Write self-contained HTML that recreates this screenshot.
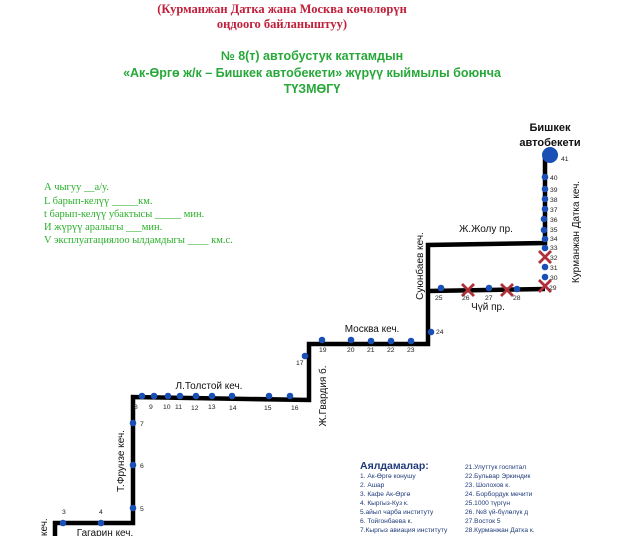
<!DOCTYPE html>
<html><head><meta charset="utf-8"><style>
html,body{margin:0;padding:0;background:#fff;width:630px;height:536px;overflow:hidden}
svg{display:block}
text{font-family:"Liberation Sans",sans-serif}
.s{font-size:6.8px;fill:#222}
.st{font-size:10px;fill:#111}
.lg{font-size:6.6px;fill:#1f3a7a}
.gr{font-family:"Liberation Serif",serif;font-size:10.5px;fill:#2bb02b}
</style></head><body>
<svg width="630" height="536" viewBox="0 0 630 536" xmlns="http://www.w3.org/2000/svg">
<text x="282" y="13" text-anchor="middle" font-weight="bold" font-size="12.5" fill="#c0203a" style="font-family:'Liberation Serif',serif">(Курманжан Датка жана Москва көчөлөрүн</text>
<text x="282" y="28" text-anchor="middle" font-weight="bold" font-size="12.5" fill="#c0203a" style="font-family:'Liberation Serif',serif">оңдоого байланыштуу)</text>
<text x="312" y="60" text-anchor="middle" font-weight="bold" font-size="12.5" fill="#28a83a">№ 8(т) автобустук каттамдын</text>
<text x="312" y="77" text-anchor="middle" font-weight="bold" font-size="12.5" fill="#28a83a">«Ак-Өргө ж/к – Бишкек автобекети» жүрүү кыймылы боюнча</text>
<text x="312" y="93" text-anchor="middle" font-weight="bold" font-size="12.5" fill="#28a83a">ТҮЗМӨГҮ</text>

<text class="gr" x="44" y="190">А чыгуу __а/у.</text>
<text class="gr" x="44" y="204">L барып-келүү  _____км.</text>
<text class="gr" x="44" y="217">t барып-келүү убактысы  _____ мин.</text>
<text class="gr" x="44" y="230">И жүрүү аралыгы ___мин.</text>
<text class="gr" x="44" y="243">V эксплуатациялоо ылдамдыгы ____ км.с.</text>

<g fill="none" stroke="#000" stroke-width="4.5" stroke-linejoin="miter">
<polyline points="55,540 55,523 133,523 133,397 309,400 309,344 428,344 428,245 545,243 545,155"/>
<polyline points="428,291 545,289"/>
</g>

<g fill="#1a4fb5">
<circle cx="63" cy="523" r="3.3"/><circle cx="101" cy="523" r="3.3"/>
<circle cx="133" cy="508" r="3.3"/><circle cx="133" cy="465" r="3.3"/><circle cx="133" cy="423" r="3.3"/>
<circle cx="142" cy="396" r="3.3"/><circle cx="154" cy="396" r="3.3"/><circle cx="168" cy="396" r="3.3"/><circle cx="180" cy="396" r="3.3"/><circle cx="196" cy="396" r="3.3"/><circle cx="212" cy="396" r="3.3"/><circle cx="232" cy="396" r="3.3"/><circle cx="269" cy="396" r="3.3"/><circle cx="290" cy="396" r="3.3"/>
<circle cx="305" cy="356" r="3.3"/><circle cx="322" cy="340" r="3.3"/>
<circle cx="351" cy="340" r="3.3"/><circle cx="371" cy="341" r="3.3"/><circle cx="391" cy="341" r="3.3"/><circle cx="411" cy="341" r="3.3"/>
<circle cx="431" cy="332" r="3.3"/>
<circle cx="441" cy="288" r="3.3"/><circle cx="489" cy="288" r="3.3"/><circle cx="517" cy="289" r="3.3"/>
<circle cx="545" cy="277" r="3.3"/><circle cx="545" cy="267" r="3.3"/><circle cx="545" cy="248" r="3.3"/><circle cx="545" cy="239" r="3.3"/><circle cx="544" cy="230" r="3.3"/><circle cx="544" cy="219" r="3.3"/><circle cx="545" cy="209" r="3.3"/><circle cx="545" cy="199" r="3.3"/><circle cx="545" cy="189" r="3.3"/><circle cx="545" cy="177" r="3.3"/>
<circle cx="550" cy="155" r="8"/>
</g>
<g stroke="#b0303a" stroke-width="2.8">
<path d="M462,284 L474,296 M474,284 L462,296"/>
<path d="M501,284 L513,296 M513,284 L501,296"/>
<path d="M539,280 L551,292 M551,280 L539,292"/>
<path d="M539,251 L551,263 M551,251 L539,263"/>
</g>

<g class="s">
<text x="62" y="514">3</text><text x="99" y="514">4</text>
<text x="140" y="511">5</text><text x="140" y="468">6</text><text x="140" y="426">7</text>
<text x="134" y="409">8</text><text x="149" y="409">9</text><text x="163" y="409">10</text><text x="175" y="409">11</text><text x="191" y="410">12</text><text x="208" y="409">13</text><text x="229" y="410">14</text><text x="264" y="410">15</text><text x="291" y="410">16</text>
<text x="296" y="365">17</text><text x="319" y="352">19</text>
<text x="347" y="352">20</text><text x="367" y="352">21</text><text x="387" y="352">22</text><text x="407" y="352">23</text>
<text x="436" y="334">24</text>
<text x="435" y="300">25</text><text x="462" y="300">26</text><text x="485" y="300">27</text><text x="513" y="300">28</text>
<text x="549" y="290">29</text><text x="550" y="280">30</text><text x="550" y="270">31</text><text x="550" y="260">32</text><text x="550" y="250">33</text><text x="550" y="241">34</text><text x="550" y="232">35</text><text x="550" y="222">36</text><text x="550" y="212">37</text><text x="550" y="202">38</text><text x="550" y="192">39</text><text x="550" y="180">40</text><text x="561" y="161">41</text>
</g>

<text x="550" y="131" text-anchor="middle" font-weight="bold" font-size="11" fill="#111">Бишкек</text>
<text x="550" y="146" text-anchor="middle" font-weight="bold" font-size="11" fill="#111">автобекети</text>

<g class="st">
<text x="486" y="232" text-anchor="middle">Ж.Жолу пр.</text>
<text x="488" y="310" text-anchor="middle">Чүй пр.</text>
<text x="372" y="332" text-anchor="middle">Москва кеч.</text>
<text x="209" y="389" text-anchor="middle">Л.Толстой кеч.</text>
<text x="105" y="536" text-anchor="middle">Гагарин кеч.</text>
<text transform="translate(579,232) rotate(-90)" text-anchor="middle">Курманжан Датка кеч.</text>
<text transform="translate(423,266) rotate(-90)" text-anchor="middle">Суюнбаев кеч.</text>
<text transform="translate(326,396) rotate(-90)" text-anchor="middle">Ж.Гвардия б.</text>
<text transform="translate(124,461) rotate(-90)" text-anchor="middle">Т.Фрунзе кеч.</text>
<text transform="translate(47,536) rotate(-90)" text-anchor="start">кеч.</text>
</g>

<text x="360" y="469" font-weight="bold" font-size="10.5" fill="#1f3a7a">Аялдамалар:</text>
<g class="lg">
<text x="360" y="478">1. Ак-Өргө конушу</text>
<text x="360" y="487">2. Ашар</text>
<text x="360" y="496">3. Кафе Ак-Өргө</text>
<text x="360" y="505">4. Кыргыз-Куз к.</text>
<text x="360" y="514">5.айыл чарба институту</text>
<text x="360" y="523">6. Тойгонбаева к.</text>
<text x="360" y="532">7.Кыргыз авиация институту</text>
<text x="360" y="541">8.Фрунзе к.</text>
<text x="465" y="469">21.Улуттук госпитал</text>
<text x="465" y="478">22.Бульвар Эркиндик</text>
<text x="465" y="487">23. Шолохов к.</text>
<text x="465" y="496">24. Борбордук мечити</text>
<text x="465" y="505">25.1000 түргүн</text>
<text x="465" y="514">26. №8 үй-бүлөлүк д</text>
<text x="465" y="523">27.Восток 5</text>
<text x="465" y="532">28.Курманжан Датка к.</text>
<text x="465" y="541">29.ЦСМ№ 5</text>
</g>
</svg>
</body></html>
